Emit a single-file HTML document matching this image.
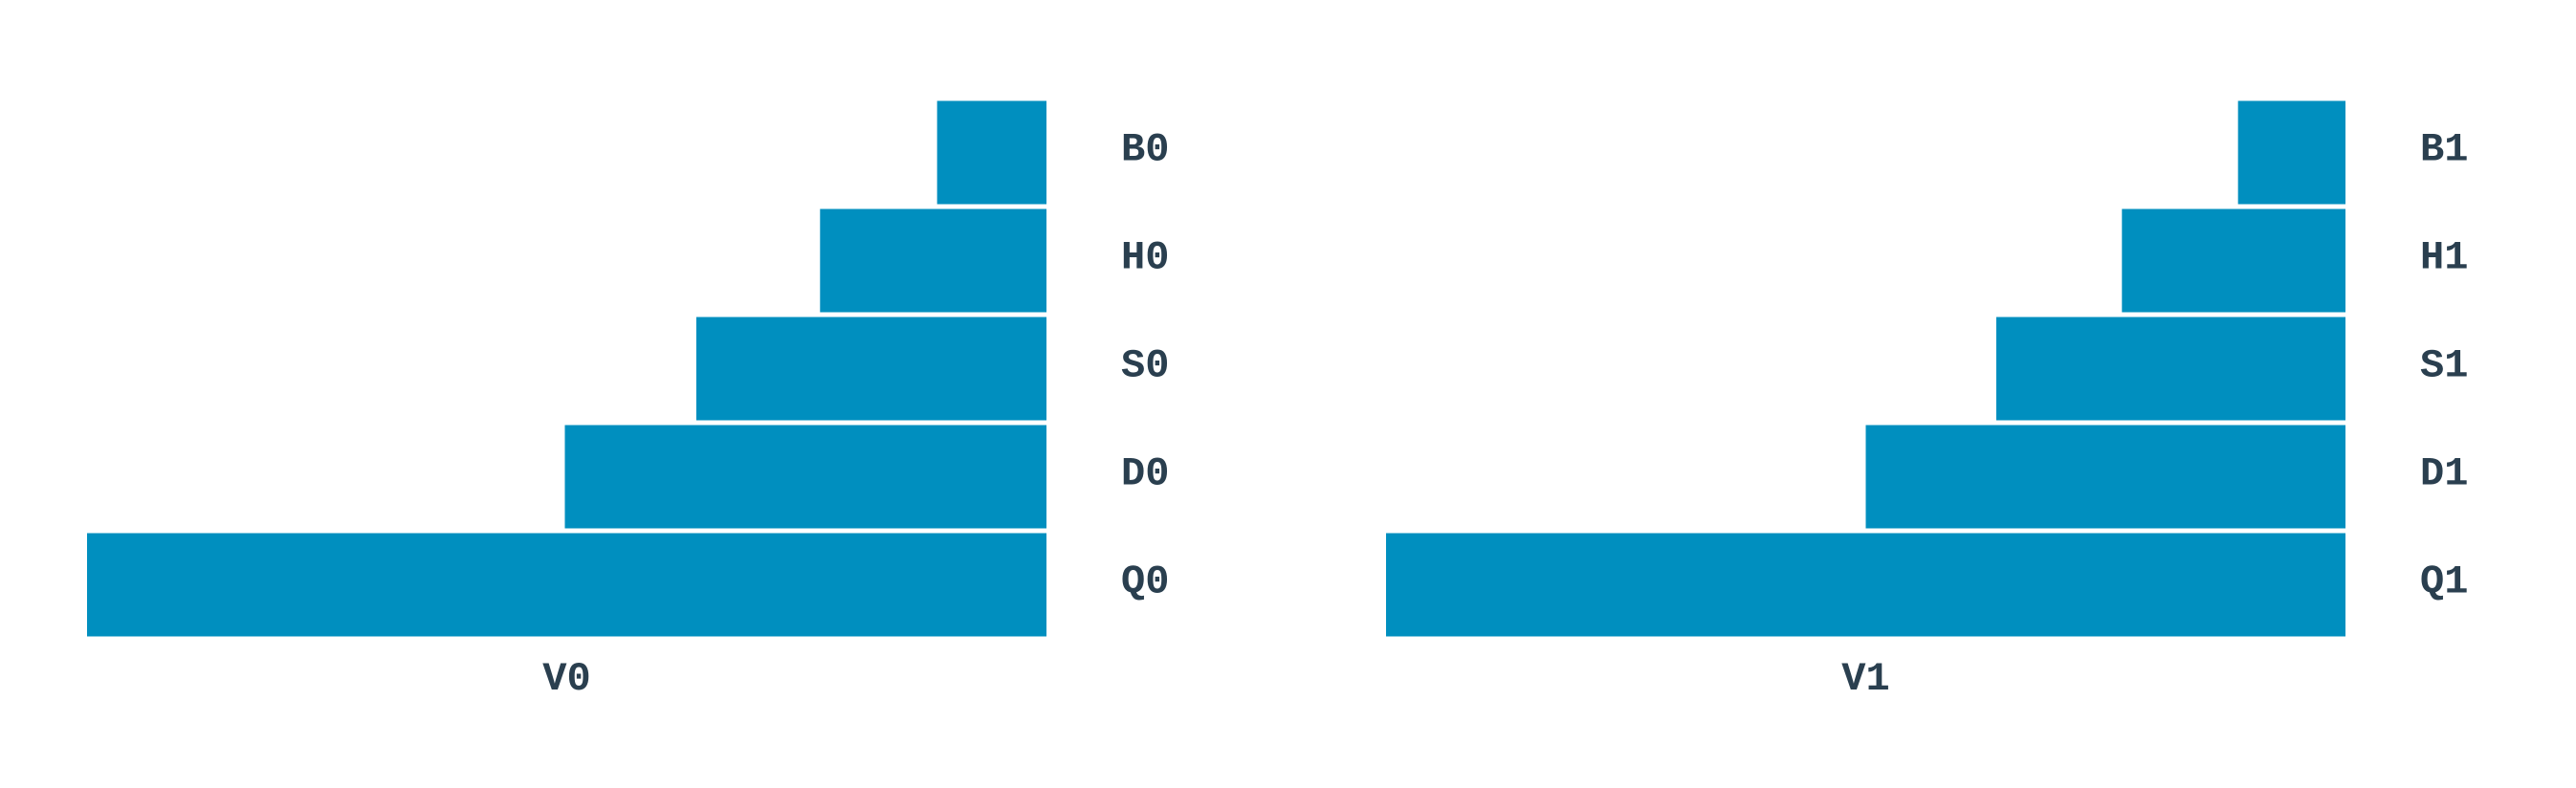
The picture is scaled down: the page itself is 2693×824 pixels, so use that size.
<!DOCTYPE html>
<html><head><meta charset="utf-8"><style>
html,body{margin:0;padding:0;background:#fff;}
svg text{font-family:"Liberation Mono",monospace;font-weight:bold;fill:#2a3f4f;font-size:42px;}
</style></head><body>
<svg id="chart" width="2693" height="819" xmlns="http://www.w3.org/2000/svg"></svg>
<script>
const categories0 = ["Q0","D0","S0","H0","B0"];
const categories1 = ["Q1","D1","S1","H1","B1"];
const values0 = [100, 50.2, 36.5, 23.6, 11.4];
const values1 = [100, 50.0, 36.4, 23.3, 11.2];
const axisTitles = ["V0","V1"];
const svgEl = document.getElementById('chart');
const NS = "http://www.w3.org/2000/svg";
const panels = [
  {cats: categories0, vals: values0, title: axisTitles[0], x0: 91, x1: 1094, lx: 1172},
  {cats: categories1, vals: values1, title: axisTitles[1], x0: 1449, x1: 2452, lx: 2530}
];
const plotTop = 103, plotBottom = 668, gap = 5;
panels.forEach((p, pi) => {
  const g = document.createElementNS(NS, 'g');
  
  
  svgEl.appendChild(g);
  const maxV = Math.max(...p.vals);
  const xScale = v => (v / maxV) * (p.x1 - p.x0);
  const band = (plotBottom - plotTop) / p.cats.length;
  p.cats.forEach((c, i) => {
    const yb = plotBottom - (i + 1) * band;
    const w = xScale(p.vals[i]);
    const r = document.createElementNS(NS, 'rect');
    r.setAttribute('x', p.x1 - w);
    r.setAttribute('y', yb + gap / 2);
    r.setAttribute('width', w);
    r.setAttribute('height', band - gap);
    r.setAttribute('fill', '#008fbf');
    
    
    g.appendChild(r);
    const t = document.createElementNS(NS, 'text');
    t.setAttribute('x', p.lx);
    t.setAttribute('y', yb + band / 2 + 8);
    t.textContent = c;
    
    
    g.appendChild(t);
  });
  const tt = document.createElementNS(NS, 'text');
  tt.setAttribute('x', (p.x0 + p.x1) / 2);
  tt.setAttribute('y', 721);
  tt.setAttribute('text-anchor', 'middle');
  tt.textContent = p.title;
  
  
  g.appendChild(tt);
});
</script>
</body></html>
